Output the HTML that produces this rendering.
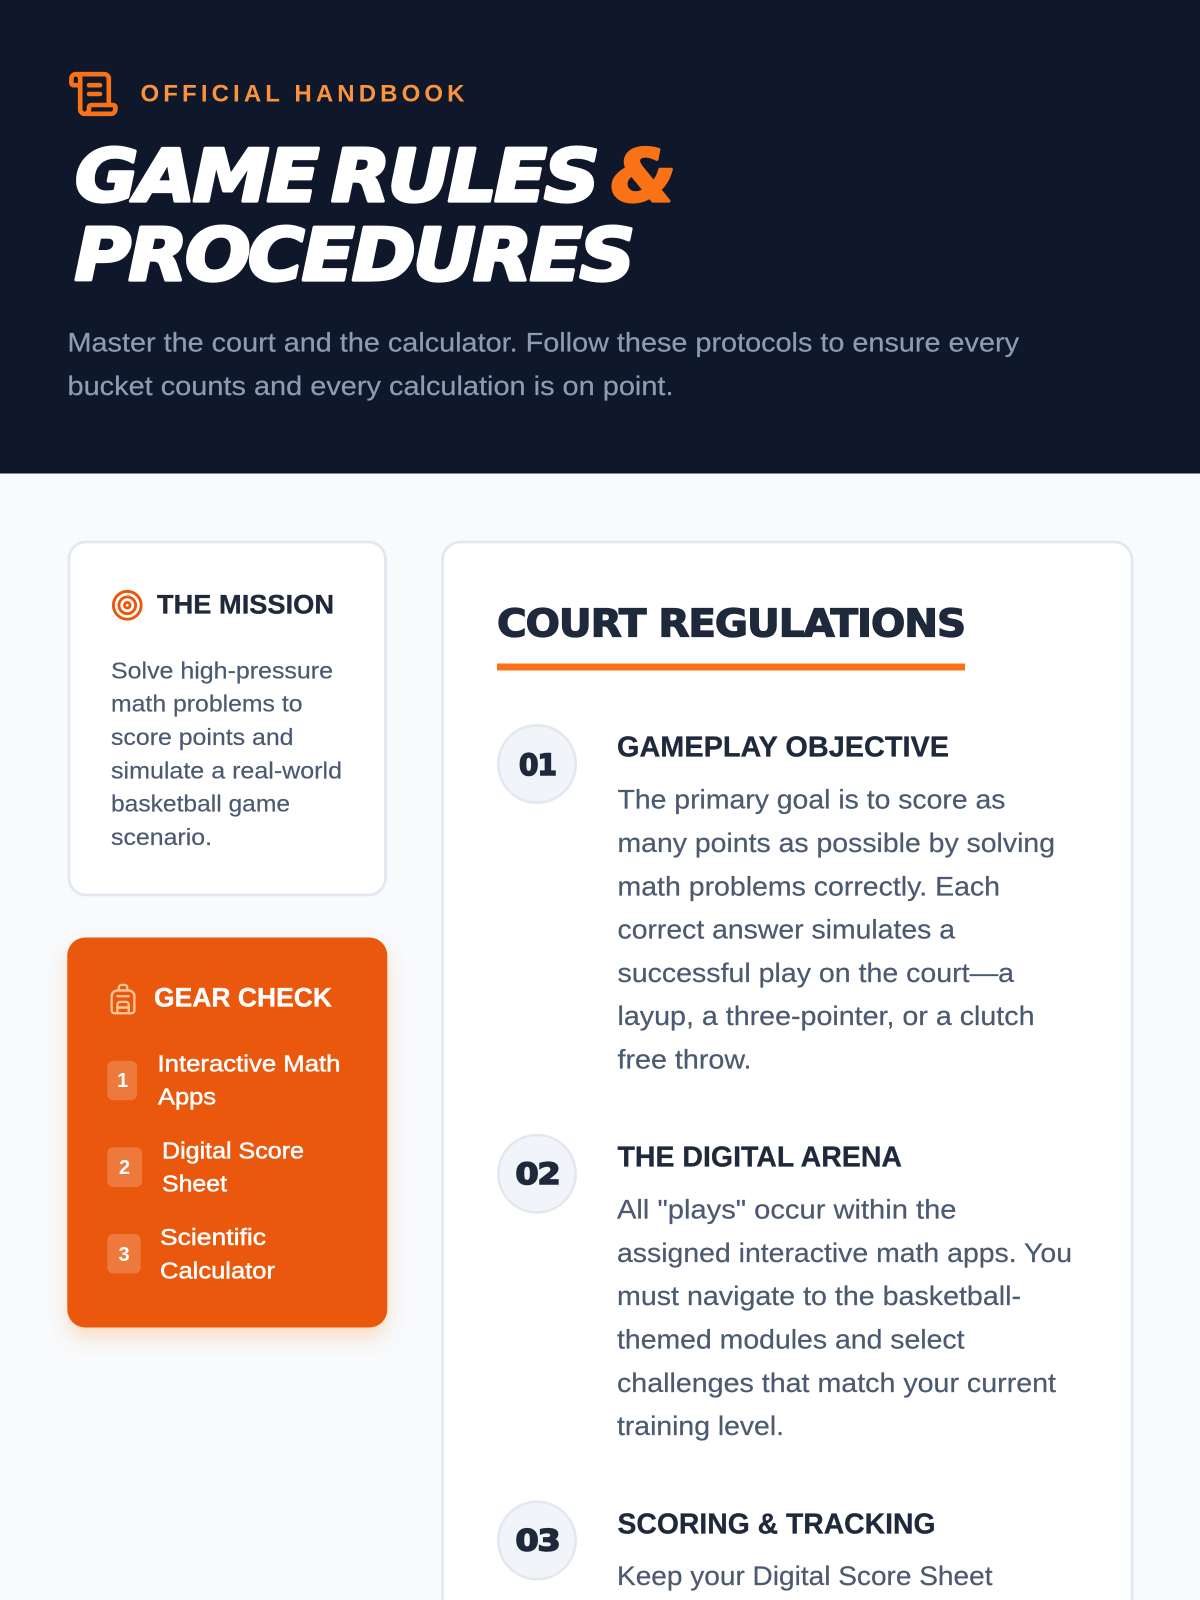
<!DOCTYPE html>
<html lang="en">
<head>
<meta charset="utf-8">
<title>Game Rules &amp; Procedures</title>
<style>
html,body{margin:0;padding:0;width:1200px;height:1600px;overflow:hidden;background:#f8fafc}
#w{position:absolute;left:0;top:0;width:1200px;height:1600px;overflow:hidden;contain:paint}
svg{display:block;position:absolute;left:-10px;top:-10px;filter:blur(.35px)}
text{font-family:"Liberation Sans",sans-serif;white-space:pre}
.h{font-family:"DejaVu Sans",sans-serif;font-weight:700}
.ti{font-size:72px;font-style:italic;stroke-width:3.2;letter-spacing:-2.5px;word-spacing:-9px;stroke-linejoin:round}
.b{font-size:27px;fill:#4b5a70;stroke:#4b5a70;stroke-width:.22}
.m{font-size:23.3px;fill:#4b5a70;stroke:#4b5a70;stroke-width:.2}
.g{font-size:23.3px;fill:#fff;stroke:#fff;stroke-width:.5}
.t{font-size:28.5px;font-weight:700;fill:#1e293b;stroke:#1e293b;stroke-width:.3}
.n{font-size:29px;fill:#1e293b;stroke:#1e293b;stroke-width:1.6;letter-spacing:-1px}
.s{font-size:27px;fill:#8d9cb2;stroke:#8d9cb2;stroke-width:.22}
.d{font-size:20px;font-weight:700;fill:#fff;text-anchor:middle}
</style>
</head>
<body>
<div id="w">
<svg width="1220" height="1620" viewBox="-10 -10 1220 1620" xmlns="http://www.w3.org/2000/svg">
<defs>
<filter id="sh" x="-20%" y="-20%" width="140%" height="140%"><feDropShadow dx="0" dy="10" stdDeviation="9" flood-color="#f97316" flood-opacity=".22"/></filter>
</defs>
<rect x="-10" y="-10" width="1220" height="1620" fill="#f8fafc"/>
<rect x="-10" y="-10" width="1220" height="483.5" fill="#0f172a"/>

<g transform="translate(67,67.6) scale(2.2)" fill="none" stroke="#f97316" stroke-width="2.1" stroke-linecap="round" stroke-linejoin="round">
<path d="M15 12h-5"/><path d="M15 8h-5"/><path d="M19 17V5a2 2 0 0 0-2-2H4"/><path d="M8 21h12a2 2 0 0 0 2-2v-1a1 1 0 0 0-1-1H11a1 1 0 0 0-1 1v1a2 2 0 1 1-4 0V5a2 2 0 1 0-4 0v2a1 1 0 0 0 1 1h3"/>
</g>
<text x="140.5" y="101.5" font-size="24" font-weight="700" fill="#fb923c" textLength="324" lengthAdjust="spacing">OFFICIAL HANDBOOK</text>

<text class="h ti" x="75" y="201" fill="#fff" stroke="#fff" textLength="522" lengthAdjust="spacingAndGlyphs">GAME RULES</text>
<text class="h ti" x="611" y="201" fill="#f97316" stroke="#f97316" textLength="62" lengthAdjust="spacingAndGlyphs">&amp;</text>
<text class="h ti" x="74.5" y="280" fill="#fff" stroke="#fff" textLength="558" lengthAdjust="spacingAndGlyphs">PROCEDURES</text>

<text class="s" x="67.5" y="351.7" textLength="951.5" lengthAdjust="spacingAndGlyphs">Master the court and the calculator. Follow these protocols to ensure every</text>
<text class="s" x="67.5" y="395" textLength="606" lengthAdjust="spacingAndGlyphs">bucket counts and every calculation is on point.</text>

<!-- Mission -->
<rect x="69" y="542" width="316.5" height="353" rx="17" fill="#fff" stroke="#e2e8f0" stroke-width="2.8"/>
<g transform="translate(110.6,588.6) scale(1.39)" fill="none" stroke="#ea580c" stroke-width="2.1">
<circle cx="12" cy="12" r="10"/><circle cx="12" cy="12" r="6"/><circle cx="12" cy="12" r="2"/>
</g>
<text x="157" y="613.3" font-size="27" font-weight="700" fill="#1e293b" stroke="#1e293b" stroke-width=".35" textLength="177" lengthAdjust="spacingAndGlyphs">THE MISSION</text>
<text class="m" x="111" y="678.3" textLength="222" lengthAdjust="spacingAndGlyphs">Solve high-pressure</text>
<text class="m" x="111" y="711.7" textLength="191.5" lengthAdjust="spacingAndGlyphs">math problems to</text>
<text class="m" x="111" y="745" textLength="182.5" lengthAdjust="spacingAndGlyphs">score points and</text>
<text class="m" x="111" y="778.3" textLength="231" lengthAdjust="spacingAndGlyphs">simulate a real-world</text>
<text class="m" x="111" y="811.7" textLength="179" lengthAdjust="spacingAndGlyphs">basketball game</text>
<text class="m" x="111" y="845" textLength="101" lengthAdjust="spacingAndGlyphs">scenario.</text>

<!-- Gear -->
<rect x="67.3" y="937.5" width="320" height="390" rx="18" fill="#ea580c" filter="url(#sh)"/>
<g transform="translate(106,982) scale(1.42)" fill="none" stroke="#fdc99b" stroke-width="1.6" stroke-linecap="round" stroke-linejoin="round">
<path d="M4 10a4 4 0 0 1 4-4h8a4 4 0 0 1 4 4v10a2 2 0 0 1-2 2H6a2 2 0 0 1-2-2z"/><path d="M8 10h8"/><path d="M8 18h8"/><path d="M8 22v-6a2 2 0 0 1 2-2h4a2 2 0 0 1 2 2v6"/><path d="M9 6V4a2 2 0 0 1 2-2h2a2 2 0 0 1 2 2v2"/>
</g>
<text x="154" y="1006.7" font-size="27" font-weight="700" fill="#fff" stroke="#fff" stroke-width=".35" textLength="178" lengthAdjust="spacingAndGlyphs">GEAR CHECK</text>

<rect x="107.3" y="1060.7" width="29.7" height="39.6" rx="6" fill="#fff" fill-opacity=".2"/>
<text class="d" x="122.7" y="1087">1</text>
<text class="g" x="157.5" y="1071.7" textLength="183" lengthAdjust="spacingAndGlyphs">Interactive Math</text>
<text class="g" x="158" y="1104.5" textLength="58" lengthAdjust="spacingAndGlyphs">Apps</text>

<rect x="107.3" y="1147.3" width="34.7" height="39.7" rx="6" fill="#fff" fill-opacity=".2"/>
<text class="d" x="124.5" y="1174">2</text>
<text class="g" x="162" y="1158.3" textLength="142" lengthAdjust="spacingAndGlyphs">Digital Score</text>
<text class="g" x="162" y="1191.7" textLength="65" lengthAdjust="spacingAndGlyphs">Sheet</text>

<rect x="107.3" y="1234" width="33.4" height="39.5" rx="6" fill="#fff" fill-opacity=".2"/>
<text class="d" x="124" y="1261">3</text>
<text class="g" x="160" y="1245" textLength="106" lengthAdjust="spacingAndGlyphs">Scientific</text>
<text class="g" x="160" y="1278.3" textLength="115" lengthAdjust="spacingAndGlyphs">Calculator</text>

<!-- Main -->
<rect x="442.5" y="542" width="689.5" height="1100" rx="18" fill="#fff" stroke="#e2e8f0" stroke-width="2.8"/>
<text class="h" x="497" y="636.5" font-size="38.5" fill="#1e293b" stroke="#1e293b" stroke-width="1.3" letter-spacing="-1" textLength="468" lengthAdjust="spacingAndGlyphs">COURT REGULATIONS</text>
<rect x="497" y="663.5" width="468" height="7" fill="#f97316"/>

<circle cx="537" cy="764" r="38.7" fill="#f1f5f9" stroke="#e2e8f0" stroke-width="2.6"/>
<text class="h n" x="519" y="775" textLength="37" lengthAdjust="spacingAndGlyphs">01</text>
<text class="t" x="617" y="756.7" textLength="332" lengthAdjust="spacingAndGlyphs">GAMEPLAY OBJECTIVE</text>
<text class="b" x="617.5" y="808.3" textLength="388" lengthAdjust="spacingAndGlyphs">The primary goal is to score as</text>
<text class="b" x="617.5" y="852" textLength="437.5" lengthAdjust="spacingAndGlyphs">many points as possible by solving</text>
<text class="b" x="617.5" y="895.3" textLength="382.5" lengthAdjust="spacingAndGlyphs">math problems correctly. Each</text>
<text class="b" x="617.5" y="938.5" textLength="337.5" lengthAdjust="spacingAndGlyphs">correct answer simulates a</text>
<text class="b" x="617.5" y="982" textLength="396.5" lengthAdjust="spacingAndGlyphs">successful play on the court—a</text>
<text class="b" x="617.5" y="1025.2" textLength="417" lengthAdjust="spacingAndGlyphs">layup, a three-pointer, or a clutch</text>
<text class="b" x="617.5" y="1068.5" textLength="134" lengthAdjust="spacingAndGlyphs">free throw.</text>

<circle cx="537" cy="1173.7" r="38.7" fill="#f1f5f9" stroke="#e2e8f0" stroke-width="2.6"/>
<text class="h n" x="515.5" y="1184" textLength="44" lengthAdjust="spacingAndGlyphs">02</text>
<text class="t" x="617.5" y="1166.7" textLength="284.5" lengthAdjust="spacingAndGlyphs">THE DIGITAL ARENA</text>
<text class="b" x="617" y="1218.5" textLength="339.5" lengthAdjust="spacingAndGlyphs">All "plays" occur within the</text>
<text class="b" x="617" y="1262" textLength="455" lengthAdjust="spacingAndGlyphs">assigned interactive math apps. You</text>
<text class="b" x="617" y="1305.2" textLength="404" lengthAdjust="spacingAndGlyphs">must navigate to the basketball-</text>
<text class="b" x="617" y="1348.5" textLength="347.5" lengthAdjust="spacingAndGlyphs">themed modules and select</text>
<text class="b" x="617" y="1392" textLength="439" lengthAdjust="spacingAndGlyphs">challenges that match your current</text>
<text class="b" x="617" y="1435" textLength="167" lengthAdjust="spacingAndGlyphs">training level.</text>

<circle cx="537" cy="1540.5" r="38.7" fill="#f1f5f9" stroke="#e2e8f0" stroke-width="2.6"/>
<text class="h n" x="515.5" y="1550.7" textLength="44" lengthAdjust="spacingAndGlyphs">03</text>
<text class="t" x="617.5" y="1533.3" textLength="318" lengthAdjust="spacingAndGlyphs">SCORING &amp; TRACKING</text>
<text class="b" x="617" y="1585" textLength="375.5" lengthAdjust="spacingAndGlyphs">Keep your Digital Score Sheet</text>
</svg>
</div>
</body>
</html>
